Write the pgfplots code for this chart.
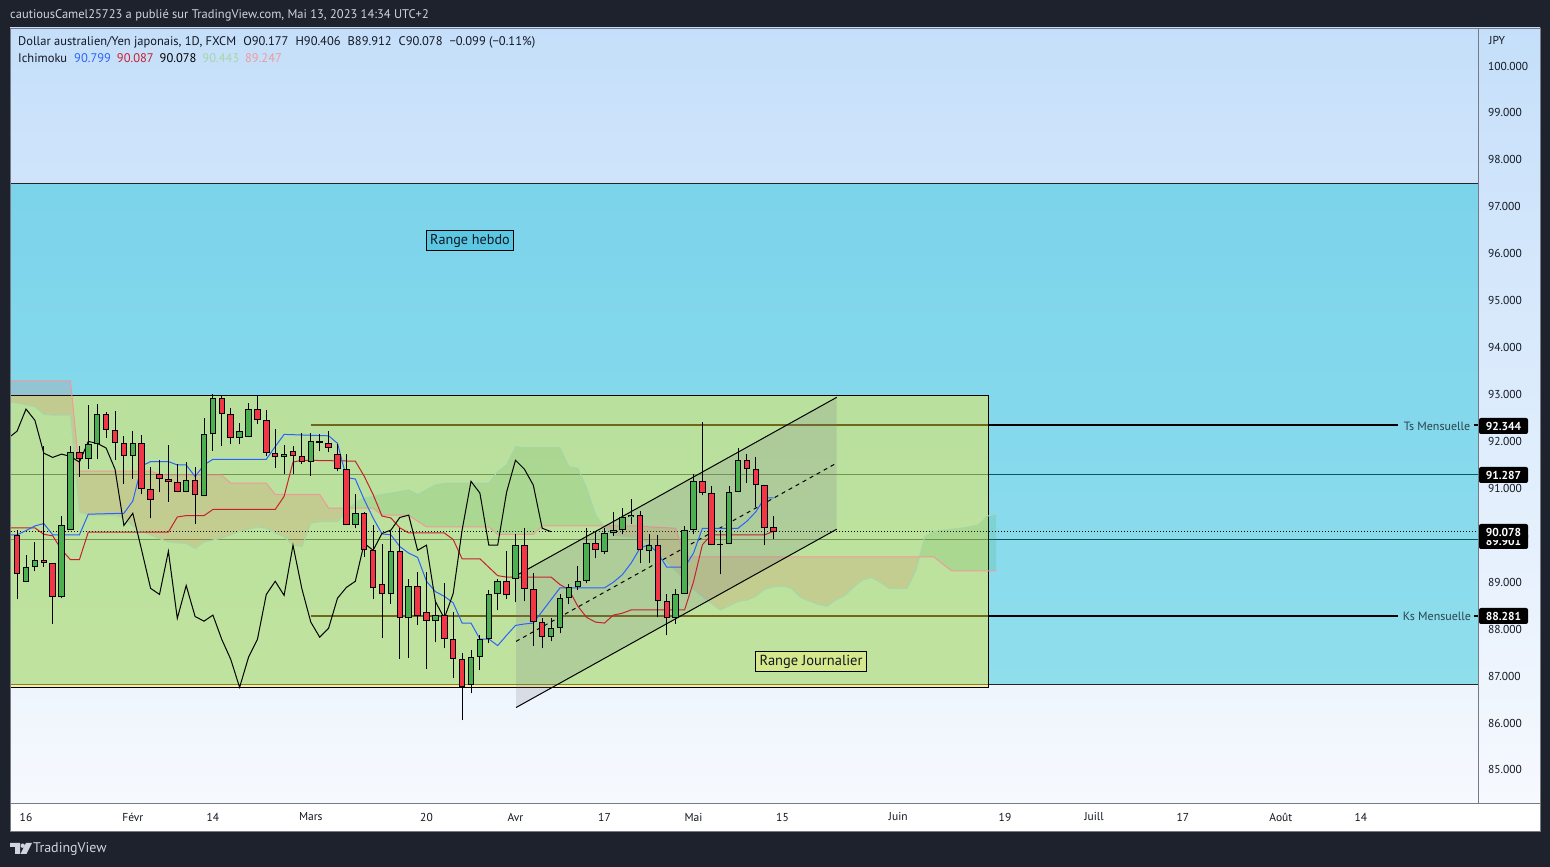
\documentclass[border=0pt]{standalone}
\usepackage{fontspec}
\setmainfont{PT Sans}
\usepackage{pgfplots}
\pgfplotsset{compat=1.18}
\usepackage{pgfplotstable}

\definecolor{tvdark}{HTML}{1E222D}
\definecolor{hdr}{HTML}{D1D4DC}
\definecolor{bgtop}{HTML}{C5DFFA}
\definecolor{bgbot}{HTML}{F8FAFE}
\definecolor{hcyan}{HTML}{00BCD4}
\definecolor{labcyan}{HTML}{5AC8E2}
\definecolor{jyel}{HTML}{FFEB3B}
\definecolor{labyel}{HTML}{D6E88C}
\definecolor{tvtext}{HTML}{131722}
\definecolor{cgreen}{HTML}{4CAF50}
\definecolor{cred}{HTML}{F23645}
\definecolor{tenkanc}{HTML}{2962FF}
\definecolor{kijunc}{HTML}{C8202E}
\definecolor{spanA}{HTML}{A5D6A7}
\definecolor{spanB}{HTML}{EF9A9A}
\definecolor{cloudR}{HTML}{F44336}
\definecolor{cloudG}{HTML}{43A047}
\definecolor{tealline}{HTML}{0B5560}
\definecolor{axgrey}{HTML}{787B86}
\definecolor{lbltext}{HTML}{2A434C}

\pgfplotstableread{
i o h l c
-2 91.41 91.45 89.95 90.00
-1 90.00 90.11 88.64 89.17
0 89.00 89.58 89.00 89.32
1 89.32 89.85 89.23 89.47
2 89.47 91.90 89.33 89.40
3 89.40 89.40 88.12 88.68
4 88.68 90.41 88.66 90.23
5 90.11 91.90 90.11 91.77
6 91.77 91.90 91.25 91.62
7 91.62 92.78 91.41 91.94
8 91.94 92.79 91.63 92.58
9 92.58 92.62 92.07 92.24
10 92.24 92.65 91.60 91.96
11 91.96 92.12 91.09 91.68
12 91.68 92.22 91.21 91.96
13 91.96 92.14 90.87 90.98
14 90.98 91.46 90.36 90.75
15 91.30 91.60 90.92 91.21
16 91.21 91.92 90.72 91.13
17 91.13 91.53 90.92 90.92
18 90.92 91.56 90.92 91.17
19 91.17 91.45 90.24 90.85
20 90.83 92.49 90.83 92.15
21 92.15 93.02 91.80 92.92
22 92.92 92.97 91.91 92.58
23 92.58 92.71 91.94 92.07
24 92.07 92.39 91.94 92.22
25 92.09 92.81 92.09 92.69
26 92.69 93.00 92.37 92.45
27 92.45 92.66 91.68 91.75
28 91.75 92.26 91.43 91.66
29 91.66 91.92 91.30 91.73
30 91.79 91.90 91.31 91.68
31 91.68 92.17 91.53 91.56
32 91.56 92.19 91.27 92.00
33 92.00 92.15 91.79 91.96
34 91.96 92.22 91.77 91.86
35 91.73 91.94 91.36 91.41
36 91.41 91.73 90.21 90.21
37 90.21 90.89 90.15 90.47
38 90.47 90.49 89.54 89.68
39 89.68 90.23 88.64 88.87
40 88.96 89.81 87.81 88.74
41 88.74 90.10 88.54 89.66
42 89.66 90.15 87.36 88.23
43 88.23 89.07 87.39 88.93
44 88.93 89.21 88.09 88.27
45 88.37 89.21 87.15 88.17
46 88.17 88.57 87.72 88.30
47 88.30 88.98 87.59 87.78
48 87.78 88.36 86.95 87.36
49 87.36 87.49 86.06 86.76
50 86.81 87.55 86.63 87.40
51 87.40 87.87 87.12 87.78
52 87.78 88.83 87.70 88.74
53 88.74 89.06 88.40 89.02
54 89.02 89.66 88.64 88.72
55 89.06 90.02 88.57 89.79
56 89.79 90.15 88.59 88.86
57 88.85 89.19 87.64 88.15
58 88.15 88.23 87.59 87.83
59 87.83 88.23 87.74 88.02
60 88.02 88.76 87.91 88.66
61 88.66 88.96 88.53 88.89
62 88.89 89.34 88.83 89.02
63 89.02 90.15 88.98 89.83
64 89.83 90.06 89.51 89.68
65 89.64 90.15 89.60 90.04
66 90.04 90.50 89.98 90.11
67 90.11 90.59 90.02 90.38
68 90.38 90.77 90.25 90.43
69 90.43 90.51 89.40 89.68
70 89.66 90.02 89.40 89.79
71 89.79 90.00 88.25 88.59
72 88.59 88.74 87.87 88.23
73 88.23 88.85 88.12 88.76
74 88.76 90.19 88.76 90.11
75 90.11 91.30 90.02 91.15
76 91.15 92.41 90.85 90.90
77 90.90 91.04 89.79 89.79
78 89.79 90.11 89.17 89.79
79 89.81 91.06 89.81 90.92
80 90.92 91.85 90.92 91.60
81 91.60 91.73 91.11 91.41
82 91.41 91.66 90.60 91.07
83 91.07 91.07 89.79 90.15
84 90.177 90.406 89.912 90.078
}\candles

\pgfplotstableread{
i t
-2 90.01
-1 90.01
0 90.10
1 90.20
2 90.25
3 90.01
6 90.01
7 90.45
11 90.47
12 90.73
13 91.48
14 91.57
16 91.57
17 91.50
18 91.50
19 91.25
20 91.50
21 91.62
27 91.62
28 91.89
29 92.15
34 92.12
35 91.96
36 91.23
37 91.20
38 90.76
39 90.37
40 90.03
41 90.01
42 89.76
43 89.62
44 89.53
45 89.02
46 88.80
47 88.70
48 88.56
49 88.13
50 88.13
51 87.79
52 87.79
53 87.65
54 87.87
55 88.08
56 88.11
57 88.13
58 88.38
59 88.63
60 88.88
65 88.88
66 89.00
67 89.16
68 89.41
69 89.73
70 89.80
71 89.62
72 89.32
74 89.32
75 89.62
76 90.15
80 90.15
81 90.30
82 90.50
83 90.80
84 90.799
}\tenkan

\pgfplotstableread{
i k
-2 90.16
1 90.16
2 90.02
3 89.99
4 89.69
5 89.48
6 89.48
7 90.07
16 90.07
17 90.39
18 90.42
20 90.42
21 90.55
28 90.55
29 90.83
30 91.56
31 91.60
37 91.58
38 91.26
39 90.87
40 90.41
41 90.37
42 90.16
43 90.05
47 90.05
48 89.91
49 89.50
51 89.50
52 89.32
53 89.14
54 89.11
59 89.11
60 88.95
61 88.84
62 88.49
63 88.25
64 88.15
65 88.13
66 88.30
67 88.34
68 88.41
74 88.41
75 89.01
76 89.80
77 90.01
83 90.01
84 90.087
}\kijun

\pgfplotstableread{
i a b
-2 92.85 93.29
-1 92.82 93.29
0 92.78 93.29
1 92.74 93.29
2 92.58 93.29
3 92.56 93.29
4 92.56 93.29
5 92.56 93.29
6 90.50 91.37
7 90.43 91.37
8 90.43 91.37
9 90.43 91.37
10 90.43 91.37
11 90.37 91.37
12 90.20 91.37
13 90.08 91.37
14 90.01 91.37
15 89.93 91.30
16 89.86 91.28
17 89.84 91.28
18 89.83 91.28
19 89.72 91.28
20 89.86 91.28
21 89.90 91.28
22 89.94 91.28
23 90.01 91.11
24 90.08 91.11
25 90.13 91.11
26 90.18 91.11
27 90.15 91.11
28 90.05 90.87
29 89.97 90.87
30 89.79 90.87
31 89.76 90.87
32 90.26 90.87
33 90.29 90.87
34 90.29 90.58
35 90.29 90.58
36 90.50 90.58
37 90.70 90.58
38 90.79 90.58
39 90.83 90.58
40 90.87 90.43
41 90.90 90.43
42 90.93 90.43
43 90.97 90.43
44 90.87 90.30
45 90.97 90.18
46 91.07 90.18
47 91.11 90.18
48 91.11 90.18
49 91.11 90.18
50 91.11 90.18
51 91.11 90.18
52 91.11 90.18
53 91.36 90.02
54 91.50 90.02
55 91.89 90.02
56 91.87 90.02
57 91.87 90.02
58 91.87 90.20
59 91.87 90.20
60 91.87 90.20
61 91.46 90.20
62 91.43 90.20
63 91.00 90.20
64 90.43 90.20
65 90.18 90.20
66 90.01 90.20
67 89.98 90.20
68 89.96 90.20
69 89.94 90.20
70 89.83 90.18
71 89.64 90.17
72 89.44 90.16
73 89.25 90.15
74 89.05 89.54
75 88.85 89.54
76 88.70 89.54
77 88.55 89.54
78 88.41 89.54
79 88.50 89.54
80 88.59 89.54
81 88.62 89.54
82 88.70 89.54
83 88.85 89.54
84 88.90 89.54
85 88.92 89.54
86 88.87 89.54
87 88.68 89.54
88 88.60 89.54
89 88.53 89.54
90 88.49 89.54
91 88.62 89.54
92 88.72 89.54
93 88.90 89.54
94 89.05 89.54
95 89.10 89.54
96 89.00 89.54
97 88.87 89.54
98 88.87 89.54
99 88.87 89.54
100 89.26 89.54
101 89.97 89.54
102 90.08 89.54
103 90.11 89.39
104 90.13 89.24
105 90.15 89.24
106 90.18 89.24
107 90.22 89.24
108 90.41 89.24
109 90.443 89.247
}\senkou

\begin{document}
\begin{tikzpicture}[x=1pt,y=1pt]
\fill[tvdark] (0,0) rectangle (1550,867);
\shade[top color=bgtop, bottom color=bgbot] (10,839) rectangle (1540,36);
\fill[white] (10,36) rectangle (1540,64);
\begin{axis}[
  at={(10pt,64pt)}, anchor=south west,
  scale only axis, width=1468pt, height=775pt,
  xmin=-1.798, xmax=163.146, ymin=84.296, ymax=100.81,
  axis line style={draw=none},
  major tick length=0pt,
  ytick={85,86,...,100},
  yticklabel pos=right,
  yticklabel style={anchor=west, xshift=10pt, inner sep=0pt},
  xtick={0,12,21,32,45,55,65,75,85,98,110,120,130,141,150},
  xticklabels={16,Févr,14,Mars,20,Avr,17,Mai,15,Juin,19,Juill,17,Août,14},
  xticklabel style={anchor=center, yshift=-14pt, inner sep=0pt},
  tick label style={font=\fontsize{11.5}{13}\selectfont, text=tvtext},
  /pgf/number format/.cd, fixed, fixed zerofill, precision=3, 1000 sep={}, assume math mode=true,
]
% weekly range
\addplot[fill=hcyan, fill opacity=0.40, draw=black!85, line width=1pt] coordinates {(-4,86.83) (170,86.83) (170,97.49) (-4,97.49)} -- cycle;
% monthly levels and lines
\addplot[tealline, line width=1pt] coordinates {(-4,91.287) (170,91.287)};
\addplot[tealline, line width=1pt] coordinates {(-4,89.901) (170,89.901)};
\addplot[black, line width=2pt] coordinates {(32,92.344) (154.2,92.344)};
\addplot[black, line width=2pt] coordinates {(162.7,92.344) (170,92.344)};
\addplot[black, line width=2pt] coordinates {(32,88.281) (154.2,88.281)};
\addplot[black, line width=2pt] coordinates {(162.7,88.281) (170,88.281)};
% daily range
\addplot[fill=jyel, fill opacity=0.44, draw=black, line width=1pt] coordinates {(-4,86.75) (108.1,86.75) (108.1,92.97) (-4,92.97)} -- cycle;
% last price
\addplot[black, line width=1pt, dash pattern=on 1pt off 2pt] coordinates {(-4,90.078) (170,90.078)};
% cloud (bearish / bullish segments between Senkou A and Senkou B)
\addplot[fill=cloudR, fill opacity=0.13, draw=none] coordinates {
(-2,92.85) (-1,92.82) (0,92.78) (1,92.74) (2,92.58) (3,92.56) (4,92.56) (5,92.56) (6,90.50) (7,90.43) (8,90.43) (9,90.43) (10,90.43) (11,90.37) (12,90.20) (13,90.08) (14,90.01) (15,89.93) (16,89.86) (17,89.84) (18,89.83) (19,89.72) (20,89.86) (21,89.90) (22,89.94) (23,90.01) (24,90.08) (25,90.13) (26,90.18) (27,90.15) (28,90.05) (29,89.97) (30,89.79) (31,89.76) (32,90.26) (33,90.29) (34,90.29) (35,90.29) (36,90.50) (36.4,90.58)
(36,90.58) (34,90.58) (33,90.87) (28,90.87) (27,91.11) (23,91.11) (22,91.28) (16,91.28) (15,91.30) (14,91.37) (6,91.37) (5,93.29) (-2,93.29)} -- cycle;
\addplot[fill=cloudG, fill opacity=0.14, draw=none] coordinates {
(36.4,90.58) (37,90.70) (38,90.79) (39,90.83) (40,90.87) (41,90.90) (42,90.93) (43,90.97) (44,90.87) (45,90.97) (46,91.07) (47,91.11) (52,91.11) (53,91.36) (54,91.50) (55,91.89) (56,91.87) (60,91.87) (61,91.46) (62,91.43) (63,91.00) (64,90.43) (64.92,90.20)
(64,90.20) (58,90.20) (57,90.02) (53,90.02) (52,90.18) (45,90.18) (44,90.30) (43,90.43) (40,90.43) (39,90.58) (37,90.58)} -- cycle;
\addplot[fill=cloudR, fill opacity=0.13, draw=none] coordinates {
(64.92,90.20) (65,90.18) (66,90.01) (67,89.98) (68,89.96) (69,89.94) (70,89.83) (71,89.64) (72,89.44) (73,89.25) (74,89.05) (75,88.85) (76,88.70) (77,88.55) (78,88.41) (79,88.50) (80,88.59) (81,88.62) (82,88.70) (83,88.85) (84,88.90) (85,88.92) (86,88.87) (87,88.68) (88,88.60) (89,88.53) (90,88.49) (91,88.62) (92,88.72) (93,88.90) (94,89.05) (95,89.10) (96,89.00) (97,88.87) (99,88.87) (100,89.26) (100.39,89.54)
(74,89.54) (73,90.15) (72,90.16) (71,90.17) (70,90.18) (69,90.20) (65,90.20)} -- cycle;
\addplot[fill=cloudG, fill opacity=0.14, draw=none] coordinates {
(100.39,89.54) (101,89.97) (102,90.08) (103,90.11) (104,90.13) (105,90.15) (106,90.18) (107,90.22) (108,90.41) (109,90.443)
(109,89.247) (104,89.24) (103,89.39) (102,89.54)} -- cycle;
\addplot[spanA, line width=1pt] table[x=i, y=a] {\senkou};
\addplot[spanB, line width=1pt] table[x=i, y=b] {\senkou};
% channel
\addplot[fill=axgrey, fill opacity=0.2, draw=none] coordinates {(55.06,89.14) (91.09,92.94) (91.09,90.13) (55.06,86.33)} -- cycle;
\addplot[black, line width=1pt] coordinates {(55.06,89.14) (91.09,92.94)};
\addplot[black, line width=1pt] coordinates {(55.06,86.33) (91.09,90.13)};
\addplot[black, line width=1pt, dash pattern=on 4pt off 4pt] coordinates {(55.06,87.74) (91.09,91.54)};
% ichimoku lines
\addplot[kijunc, line width=1pt] table[x=i, y=k] {\kijun};
\addplot[tenkanc, line width=1pt] table[x=i, y=t] {\tenkan};
\addplot[black, line width=1pt] table[x expr=\thisrow{i}-25, y=c] {\candles};
% candles: wicks
\addplot[only marks, mark=*, mark size=0pt, mark options={draw=none, fill=none}, error bars/.cd, y dir=plus, y explicit, error mark=none,
  error bar style={draw=black, line width=1pt}]
  table[x=i, y=l, y error plus expr={\thisrow{h}-\thisrow{l}}] {\candles};
% candle bodies (outline)
\addplot[only marks, mark=*, mark size=0pt, mark options={draw=none, fill=none}, error bars/.cd, y dir=plus, y explicit, error mark=none,
  error bar style={draw=black, line width=6.5pt}]
  table[x=i, y expr={min(\thisrow{o},\thisrow{c})}, y error plus expr={max(abs(\thisrow{c}-\thisrow{o}),0.03)}] {\candles};
\addplot[only marks, mark=*, mark size=0pt, mark options={draw=none, fill=none}, error bars/.cd, y dir=plus, y explicit, error mark=none,
  error bar style={draw=cgreen, line width=4.5pt}]
  table[x=i, y expr={\thisrow{c}>\thisrow{o} ? \thisrow{o}+0.0213 : nan}, y error plus expr={max(abs(\thisrow{c}-\thisrow{o})-0.0426,0)}] {\candles};
\addplot[only marks, mark=*, mark size=0pt, mark options={draw=none, fill=none}, error bars/.cd, y dir=plus, y explicit, error mark=none,
  error bar style={draw=cred, line width=4.5pt}]
  table[x=i, y expr={\thisrow{c}<\thisrow{o} ? \thisrow{c}+0.0213 : nan}, y error plus expr={max(abs(\thisrow{c}-\thisrow{o})-0.0426,0)}] {\candles};
\end{axis}
% frame lines
\draw[axgrey, line width=1pt] (1478.5,839) -- (1478.5,64);
\draw[axgrey, line width=1pt] (10,63.5) -- (1540,63.5);
\draw[axgrey, line width=0.8pt] (10,36) rectangle (1540,839);
% header
\node[anchor=base west, inner sep=0pt, text=hdr, font=\fontsize{12.5}{15}\selectfont] at (10,848.5) {cautiousCamel25723 a publié sur TradingView.com, Mai 13, 2023 14:34 UTC+2};
% legend
\node[anchor=base west, inner sep=0pt, text=tvtext, font=\fontsize{12.5}{14}\selectfont] at (18,821.5) {Dollar australien/Yen japonais, 1D, FXCM\hspace{7pt}O90.177\hspace{7pt}H90.406\hspace{7pt}B89.912\hspace{7pt}C90.078\hspace{7pt}−0.099 (−0.11\%)};
\node[anchor=base west, inner sep=0pt, text=tvtext, font=\fontsize{12.5}{14}\selectfont] at (18,804.5) {Ichimoku\hspace{7pt}\textcolor{tenkanc}{90.799}\hspace{6pt}\textcolor{kijunc}{90.087}\hspace{6pt}\textcolor{black}{90.078}\hspace{6pt}\textcolor{spanA}{90.443}\hspace{6pt}\textcolor{spanB}{89.247}};
% JPY
\node[anchor=west, inner sep=0pt, text=tvtext, font=\fontsize{11.5}{13}\selectfont] at (1489,827) {JPY};
% range labels
\filldraw[fill=labcyan, draw=black, line width=1pt] (426.7,636.3) rectangle (513.3,616.3);
\node[inner sep=0pt, text=tvtext, font=\fontsize{14.2}{16}\selectfont] at (470,626.3) {Range hebdo};
\filldraw[fill=labyel, draw=black, line width=1pt] (755.5,215.3) rectangle (866.5,195.3);
\node[inner sep=0pt, text=tvtext, font=\fontsize{14.5}{16}\selectfont] at (811,205.3) {Range Journalier};
% level labels
\node[inner sep=0pt, text=lbltext, font=\fontsize{12}{14}\selectfont] at (1437,441) {Ts Mensuelle};
\node[inner sep=0pt, text=lbltext, font=\fontsize{12}{14}\selectfont] at (1437,251) {Ks Mensuelle};
% price boxes
\tikzset{pbox/.style={fill=black, rounded corners=2pt}}
\fill[pbox] (1479,449) rectangle (1528,433);
\node[text=white, inner sep=0pt, font=\bfseries\fontsize{11.5}{13}\selectfont] at (1503.5,441) {92.344};
\fill[pbox] (1479,400) rectangle (1528,384);
\node[text=white, inner sep=0pt, font=\bfseries\fontsize{11.5}{13}\selectfont] at (1503.5,392) {91.287};
\fill[pbox] (1479,334) rectangle (1528,318);
\node[text=white, inner sep=0pt, font=\bfseries\fontsize{11.5}{13}\selectfont] at (1503.5,326) {89.901};
\fill[pbox] (1479,343) rectangle (1528,327);
\node[text=white, inner sep=0pt, font=\bfseries\fontsize{11.5}{13}\selectfont] at (1503.5,335) {90.078};
\fill[pbox] (1479,259) rectangle (1528,243);
\node[text=white, inner sep=0pt, font=\bfseries\fontsize{11.5}{13}\selectfont] at (1503.5,251) {88.281};
% footer logo
\fill[hdr] (10,24) rectangle (20,20) (15,20) rectangle (20,13);
\fill[hdr] (22.7,21.3) circle (2.2);
\fill[hdr] (26,24) -- (32,24) -- (26.5,13) -- (20.5,13) -- cycle;
\node[anchor=west, inner sep=0pt, text=hdr, font=\fontsize{14}{16}\selectfont] at (33,18) {TradingView};
\end{tikzpicture}
\end{document}
